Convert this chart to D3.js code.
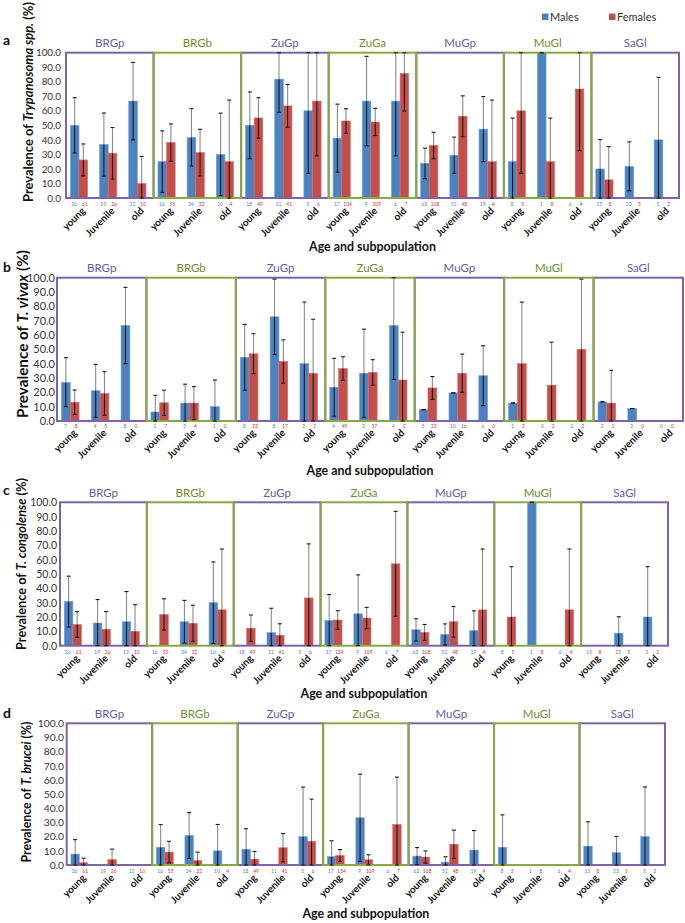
<!DOCTYPE html>
<html><head><meta charset="utf-8">
<script src="https://cdn.jsdelivr.net/npm/d3@7"></script>
<style>body{margin:0;background:#fff} svg{display:block;font-family:Lato,"Open Sans",sans-serif}</style>
</head><body><svg id="c" width="685" height="923"></svg>
<script>
// ---------------- DATA ----------------
const subpops = ["BRGp","BRGb","ZuGp","ZuGa","MuGp","MuGl","SaGl"];
const ages = ["young","Juvenile","old"];
const legendLabels = ["Males","Females"];

// sample sizes shown under panels a, c, d
const nMales   = [26,19,12, 16,24,10, 18,11,5, 17,9,6, 63,51,19, 8,1,6, 15,23,5];
const nFemales = [61,26,10, 55,32,4, 49,41,6, 134,109,7, 108,48,4, 5,8,4, 8,5,2];
// numbers shown under panel b
const nMalesB   = [7,4,8, 1,3,1, 8,8,2, 4,3,4, 5,10,6, 1,0,0, 2,2,0];
const nFemalesB = [8,5,0, 7,4,0, 23,17,2, 49,37,2, 25,16,0, 2,2,2, 1,0,0];

// a: Trypanosoma spp.
const sppMales   = [50.0,36.8,66.7, 25.0,41.7,30.0, 50.0,81.8,60.0, 41.2,66.7,66.7, 23.8,29.4,47.4, 25.0,100.0,0, 20.0,21.7,40.0];
const sppFemales = [26.2,30.8,10.0, 38.2,31.3,25.0, 55.1,63.4,66.7, 53.0,52.3,85.7, 36.1,56.3,25.0, 60.0,25.0,75.0, 12.5,0,0];
const sppMalesCI = [[31,69],[15,58.5],[40,93.3], [3.8,46.2],[22,61.5],[1.6,58.4], [27,73],[59,100],[17,100],
  [17.8,64.6],[35.9,97.5],[29,100], [13.3,34.3],[17,41.9],[25,69.8], [0,55],[100,100],null, [0,40.2],[4.9,38.6],[0,83]];
const sppFemalesCI = [[15.2,37.2],[13,48.5],[0,28.6], [25.3,51],[15.2,47.3],[0,67.4], [41.2,69],[48.7,78.1],[29,100],
  [44.5,61.4],[43,61.7],[59.8,100], [27,45.2],[42.2,70.3],[0,67.4], [17,100],[0,55],[32.6,100], [0,35.4],null,null];

// b: T. vivax
const vivaxMales   = [26.9,21.1,66.7, 6.3,12.5,10.0, 44.4,72.7,40.0, 23.5,33.3,66.7, 7.9,19.6,31.6, 12.5,0,0, 13.3,8.7,0];
const vivaxFemales = [13.1,19.2,0, 12.7,12.5,0, 46.9,41.5,33.3, 36.6,33.9,28.6, 23.1,33.3,0, 40.0,25.0,50.0, 12.5,0,0];
const vivaxMalesCI = [[10,44.2],[2.6,39.5],[40,93.3], [0,17.9],[0,25.7],[0,28.6], [21.5,67.4],[46.4,99],[0,83],
  [3.3,43.7],[2.5,64.1],[29,100], [7.9,7.9],[19.6,19.6],[10.7,52.5], [12.5,12.5],null,null, [13.3,13.3],[8.7,8.7],null];
const vivaxFemalesCI = [[4.6,21.6],[4,34.4],null, [3.9,21.5],[1,24],null, [33,60.9],[26.4,56.6],[0,71],
  [28.4,44.8],[25,42.8],[0,62], [15.1,31],[20,46.7],null, [0,83],[0,55],[0,99], [0,35.4],null,null];

// c: T. congolense
const congoMales   = [30.8,15.8,16.7, 0,16.7,30.0, 0,9.1,0, 17.6,22.2,0, 11.1,7.8,10.5, 0,100.0,0, 0,8.7,20.0];
const congoFemales = [14.8,11.5,10.0, 21.8,15.6,25.0, 12.2,7.3,33.3, 17.9,19.3,57.1, 9.3,16.7,25.0, 20.0,0,25.0, 0,0,0];
const congoMalesCI = [[13,48.5],[0,32.2],[0,37.8], null,[1.8,31.6],[1.6,58.4], null,[0,26.1],null,
  [0,35.7],[0,49.4],null, [3.3,18.8],[0.4,15.2],[0,24.3], null,[100,100],null, null,[0,20.2],[0,55.1]];
const congoFemalesCI = [[5.9,23.7],[0,23.8],[0,28.6], [10.9,32.7],[3,28.2],[0,67.4], [3,21.4],[0,15.3],[0,71],
  [11.4,24.4],[11.9,26.7],[20.5,93.7], [3.7,14.8],[6,27.3],[0,67.4], [0,55.1],null,[0,67.4], null,null,null];

// d: T. brucei
const bruceiMales   = [7.7,0,0, 12.5,20.8,10.0, 11.1,0,20.0, 5.9,33.3,0, 6.3,2.0,10.5, 12.5,0,0, 13.3,8.7,20.0];
const bruceiFemales = [1.6,3.8,0, 9.1,3.1,0, 4.1,12.2,16.7, 6.7,3.7,28.6, 5.6,14.6,0, 0,0,0, 0,0,0];
const bruceiMalesCI = [[0,17.9],null,null, [0,28.5],[4.6,37],[0,28.6], [0,25.6],null,[0,55],
  [0,17.1],[2.5,64.1],null, [0.3,12.3],[0,5.8],[0,24.3], [0,35.4],null,null, [0,30.5],[0,20.2],[0,55.1]];
const bruceiFemalesCI = [[0,4.8],[0,11.2],null, [1.5,16.7],[0,9.1],null, [0,9.6],[2.2,22.2],[0,46.5],
  [2.5,10.9],[0.1,7.2],[0,62], [1.3,9.9],[4.6,24.6],null, null,null,null, null,null,null];

const yTicks = [0,10,20,30,40,50,60,70,80,90,100];
const xTitle = "Age and subpopulation";

// ---------------- LAYOUT / STYLE ----------------
const C = {male:"#4F81BD", female:"#C0504D", purple:"#7D64A5", green:"#87A845",
           purpleText:"#6B5A9E", greenText:"#6E8D30", nMale:"#4F81BD", nFemale:"#E0302C"};

const panels = [
 {letter:"a", species:"Trypanosoma spp.", m:sppMales, f:sppFemales, mCI:sppMalesCI, fCI:sppFemalesCI, nM:nMales, nF:nFemales,
  L:66, R:679, T:52.7, B:198, letterY:45, groupY:47, countY:206, titleY:251, yl:[28,102,200], tickFs:9.8, tickGap:5},
 {letter:"b", species:"T. vivax", m:vivaxMales, f:vivaxFemales, mCI:vivaxMalesCI, fCI:vivaxFemalesCI, nM:nMalesB, nF:nFemalesB,
  L:57, R:683, T:277.7, B:421, letterY:272, groupY:271.5, countY:428, titleY:475, yl:[23,334,168], tickFs:11, tickGap:2},
 {letter:"c", species:"T. congolense", m:congoMales, f:congoFemales, mCI:congoMalesCI, fCI:congoFemalesCI, nM:nMales, nF:nFemales,
  L:60, R:668, T:502.3, B:645.7, letterY:495, groupY:497, countY:653.5, titleY:698, yl:[22,564,172], tickFs:10.5, tickGap:3},
 {letter:"d", species:"T. brucei", m:bruceiMales, f:bruceiFemales, mCI:bruceiMalesCI, fCI:bruceiFemalesCI, nM:nMales, nF:nFemales,
  L:66.7, R:665, T:723.3, B:865, letterY:718, groupY:718, countY:873, titleY:918, yl:[27,792,141], tickFs:10.3, tickGap:2.7}
];

const svg = d3.select("#c");
const cats = subpops.flatMap(s => ages.map(a => s + "|" + a));

function fit(sel, target){
  const fs = parseFloat(sel.attr("font-size"));
  const w = sel.node().getComputedTextLength();
  if (w > 0) sel.attr("font-size", (fs * target / w).toFixed(2));
}

panels.forEach(p => {
  const g = svg.append("g");
  const x = d3.scaleBand().domain(cats).range([p.L, p.R]);
  const xg = d3.scaleBand().domain(subpops).range([p.L, p.R]);
  const bw = x.bandwidth();
  const xs = d3.scaleBand().domain(["m","f"]).range([0.15*bw, 0.74*bw]);
  const y = d3.scaleLinear().domain([0,100]).range([p.B, p.T]);

  // y axis labels
  const ax = d3.axisLeft(y).tickValues(yTicks).tickSize(0).tickPadding(p.tickGap).tickFormat(d3.format(".1f"));
  const axg = g.append("g").attr("transform", `translate(${p.L},0)`).call(ax);
  axg.select(".domain").remove();
  axg.selectAll("text").attr("font-size", p.tickFs).attr("fill", "#333").attr("font-family", "Lato, sans-serif");

  // bars
  const series = [{k:"m", v:p.m, ci:p.mCI, n:p.nM, col:C.male, nc:C.nMale, dx:-0.6},
                  {k:"f", v:p.f, ci:p.fCI, n:p.nF, col:C.female, nc:C.nFemale, dx:1.6}];
  series.forEach(s => {
    g.append("g").selectAll("rect").data(cats).join("rect")
      .attr("x", (c) => x(c) + xs(s.k))
      .attr("width", xs.bandwidth())
      .attr("y", (c,i) => y(s.v[i]))
      .attr("height", (c,i) => y(0) - y(s.v[i]))
      .attr("fill", s.col)
      .attr("stroke", d3.color(s.col).brighter(0.6)).attr("stroke-width", 0.6);
  });

  // boxes
  subpops.forEach((sp, i) => {
    if (i % 2 === 0) g.append("rect").attr("x", xg(sp)).attr("y", y(100)).attr("width", xg.bandwidth())
      .attr("height", y(0) - y(100)).attr("fill", "none").attr("stroke", C.purple).attr("stroke-width", 2);
  });
  subpops.forEach((sp, i) => {
    if (i % 2 === 1) g.append("rect").attr("x", xg(sp)).attr("y", y(100)).attr("width", xg.bandwidth())
      .attr("height", y(0) - y(100)).attr("fill", "none").attr("stroke", C.green).attr("stroke-width", 2);
    g.append("text").attr("x", xg(sp) + xg.bandwidth()/2).attr("y", p.groupY)
      .attr("text-anchor", "middle").attr("font-size", 11.5)
      .attr("fill", i % 2 ? C.greenText : C.purpleText).text(sp);
  });

  // error bars
  series.forEach(s => {
    const eg = g.append("g");
    cats.forEach((c, i) => {
      const ci = s.ci[i];
      if (!ci) return;
      const cx = x(c) + xs(s.k) + xs.bandwidth()/2;
      const v = s.v[i];
      const lo = Math.max(0, ci[0]), hi = Math.min(100, ci[1]);
      if (hi > v) eg.append("line").attr("x1", cx).attr("x2", cx).attr("y1", y(hi)).attr("y2", y(v))
        .attr("stroke", "#8a8a8a").attr("stroke-width", 1.1);
      if (v > lo) eg.append("line").attr("x1", cx).attr("x2", cx).attr("y1", y(v)).attr("y2", y(lo))
        .attr("stroke", "#1a1a1a").attr("stroke-width", 1.1);
      [lo, hi].forEach(e => eg.append("line").attr("x1", cx - 2).attr("x2", cx + 2).attr("y1", y(e)).attr("y2", y(e))
        .attr("stroke", "#1a1a1a").attr("stroke-width", 1.1));
    });
    // counts
    g.append("g").selectAll("text").data(cats).join("text")
      .attr("x", c => x(c) + xs(s.k) + xs.bandwidth()/2 + s.dx).attr("y", p.countY)
      .attr("text-anchor", "middle").attr("font-size", 5).attr("fill", s.nc)
      .text((c,i) => s.n[i]);
  });

  // x tick labels
  g.append("g").selectAll("text").data(cats).join("text")
    .attr("transform", c => `translate(${x(c) + bw*0.5 + 3},${p.countY + 3}) rotate(-45)`)
    .attr("text-anchor", "end").attr("dy", "0.35em").attr("font-size", 10).attr("font-weight", "bold")
    .attr("fill", "#111").text(c => c.split("|")[1]);

  // x title
  const xt = g.append("text").attr("x", (p.L + p.R)/2).attr("y", p.titleY).attr("text-anchor", "middle")
    .attr("font-size", 12.5).attr("font-weight", "bold").attr("fill", "#111").text(xTitle);
  fit(xt, 127);

  // y title
  const yt = g.append("text").attr("transform", `translate(${p.yl[0]},${p.yl[1]}) rotate(-90)`)
    .attr("text-anchor", "middle").attr("dy", "0.35em").attr("font-size", 12).attr("font-weight", "bold").attr("fill", "#111");
  yt.append("tspan").text("Prevalence of ");
  yt.append("tspan").attr("font-style", "italic").text(p.species);
  yt.append("tspan").text(" (%)");
  fit(yt, p.yl[2]);

  // panel letter
  g.append("text").attr("x", 3).attr("y", p.letterY).attr("font-size", 14).attr("font-weight", "bold")
    .attr("fill", "#111").text(p.letter);
});

// legend (panel a)
const leg = svg.append("g");
const legX = [542, 609];
legendLabels.forEach((lab, i) => {
  leg.append("rect").attr("x", legX[i]).attr("y", 13.5).attr("width", 6.5).attr("height", 6.5)
    .attr("fill", i ? C.female : C.male);
  leg.append("text").attr("x", legX[i] + 8).attr("y", 20.5).attr("font-size", 11).attr("fill", "#333").text(lab);
});
</script></body></html>
